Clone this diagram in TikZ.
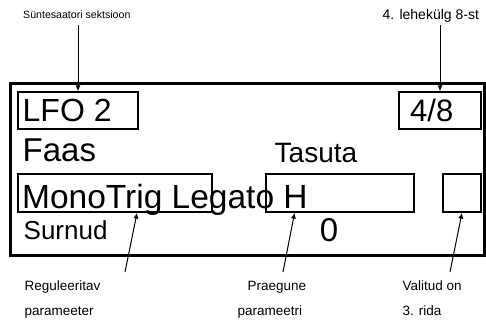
\documentclass[tikz,border=0pt]{standalone}
\usepackage{fontspec}
\setmainfont{Liberation Sans}
\usetikzlibrary{arrows.meta,calc}

\begin{document}
\begin{tikzpicture}[x=1pt,y=-1pt,
  panel/.style={draw, line width=3pt, inner sep=0pt},
  field/.style={draw, line width=1.3pt, inner sep=0pt},
  big/.style={inner sep=0pt, anchor=base west, font=\fontsize{32}{32}\selectfont},
  note/.style={inner sep=0pt, anchor=base west, font=\fontsize{13.5}{14}\selectfont},
  conn/.style={line width=1pt, -{Latex[length=6pt,width=5pt]}}]

  % canvas
  \fill[white] (0,0) rectangle (486,320);
  \useasboundingbox (0,0) rectangle (486,320);

  % display frame and its highlighted fields
  \node[panel, minimum width=474pt, minimum height=171pt] (screen) at (247,169.5) {};
  \node[field, minimum width=120pt, minimum height=37pt] (sectbox) at (78,110.5) {};
  \node[field, minimum width=82pt, minimum height=37pt] (pagebox) at (440,110.5) {};
  \node[field, minimum width=194pt, minimum height=38pt] (parambox) at (115,193) {};
  \node[field, minimum width=148pt, minimum height=38pt] (valuebox) at (340,193) {};
  \node[field, minimum width=38pt, minimum height=38pt] (rowbox) at (462,193) {};

  % display text
  \node[big] (sect) at (22.5,121.7) {LFO 2};
  \node[big, font=\fontsize{31}{31}\selectfont] (page) at (410,122) {4/8};
  \node[big, font=\fontsize{33}{33}\selectfont] (faas) at (22.5,162) {Faas};
  \node[big, font=\fontsize{28}{28}\selectfont] (tasuta) at (274.5,163) {Tasuta};
  \node[big, font=\fontsize{33.5}{33.5}\selectfont] (param) at (22,208.3) {MonoTrig Legato H};
  \node[big, font=\fontsize{26}{26}\selectfont] (surnud) at (23.5,239) {Surnud};
  \node[big, anchor=base, font=\fontsize{33}{33}\selectfont] (zero) at (329,241) {0};

  % callout labels
  \node[inner sep=0pt, anchor=base west, font=\fontsize{10.6}{12}\selectfont] (lsect) at (23,19) {Süntesaatori sektsioon};
  \node[inner sep=0pt, anchor=base west, font=\fontsize{14}{14}\selectfont] (lpage) at (382.5,20) {4. lehekülg 8-st};
  \node[note] (lparam1) at (24.5,290) {Reguleeritav};
  \node[note] (lparam2) at (24.5,315.5) {parameeter};
  \node[note] (lvalue1) at (247.5,290) {Praegune};
  \node[note] (lvalue2) at (237.5,315.5) {parameetri};
  \node[note] (lrow1) at (402.5,290) {Valitud on};
  \node[note] (lrow2) at (402.5,315.5) {3. rida};

  % connector starting points
  \coordinate (csect) at (78,25);
  \coordinate (cpage) at (440,25);
  \coordinate (cparam) at (125,272);
  \coordinate (cvalue) at (283,272);
  \coordinate (crow) at (450,272);

  % connectors
  \draw[conn] (csect) -- (csect |- sectbox.north);
  \draw[conn] (cpage) -- (cpage |- pagebox.north);
  \draw[conn] (cparam) -- ($(parambox.south west)!0.613!(parambox.south east)$);
  \draw[conn] (cvalue) -- ($(valuebox.south west)!0.196!(valuebox.south east)$);
  \draw[conn] (crow) -- (rowbox.south);
\end{tikzpicture}
\end{document}
